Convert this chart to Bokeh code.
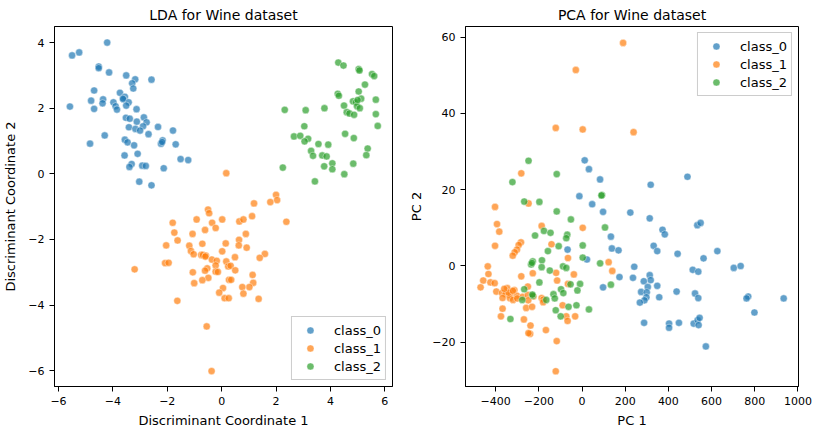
from bokeh.plotting import figure
from bokeh.layouts import row
from bokeh.models import Range1d, FixedTicker
from bokeh.embed import file_html
from bokeh.resources import INLINE

classes = ["class_0", "class_1", "class_2"]
colors = ["#1f77b4", "#ff7f0e", "#2ca02c"]

# ---------------- LDA data ----------------
lda0_x = [-4.21, -5.50, -5.24, -4.52, -4.52, -4.14, -3.51, -3.18, -3.29, -3.25, -2.58, -4.69, -3.74, -3.56,
          -3.61, -4.80, -4.36, -4.38, -3.98, -3.90, -3.85, -3.42, -3.51, -5.58, -4.69, -3.13, -3.52, -3.38,
          -3.12, -2.86, -2.76, -2.89, -3.41, -3.17, -3.00, -2.69, -2.34, -1.79, -4.30, -4.84, -3.56, -3.46,
          -3.22, -2.17, -2.23, -1.69, -3.57, -3.09, -3.31, -3.39, -2.92, -2.79, -2.13, -1.51, -1.23, -3.03,
          -2.58, -3.63, -2.19]
lda0_y = [4.00, 3.61, 3.70, 3.27, 3.22, 3.09, 3.00, 2.88, 2.76, 2.60, 2.87, 2.54, 2.47, 2.35,
          2.27, 2.23, 2.27, 2.15, 2.18, 2.06, 1.96, 2.18, 2.08, 2.05, 1.98, 1.97, 1.71, 1.68,
          1.59, 1.72, 1.57, 1.45, 1.42, 1.37, 1.32, 1.21, 1.43, 1.32, 1.17, 0.92, 1.04, 0.96,
          0.87, 1.02, 0.92, 0.90, 0.56, 0.61, 0.30, 0.21, 0.25, 0.24, 0.17, 0.45, 0.42, -0.24,
          -0.35, 2.29, 0.97]

lda1_x = [0.17, 2.00, 2.04, 1.79, 1.19,
          -0.50, -0.46, -0.92, 0.02, -0.35, -0.22, -1.80, -0.61, -1.74, -1.07, -1.62, -2.04, -1.19, -0.71,
          0.15, -1.13, -1.03, -0.75, -0.69, -0.58, 0.02, -0.36, -0.18, 0.17, 0.24, -2.08, -1.95, -0.22,
          -0.53, -0.61, -0.22, -0.14, -1.06, -3.20, -0.49, -0.71, -1.01, 0.27, 0.05, -0.09, 0.11, -1.63,
          -0.55, -0.37,
          2.38, 1.12, 0.65, 0.80, 0.89, 0.64, 0.63, 0.92, 1.59, 1.40, 0.49, 0.33, 0.50, 1.14, 0.35,
          1.16, 1.02, 0.76, 0.80, 0.26, 1.36, -0.60]
lda1_y = [0.02, -0.64, -0.80, -0.86, -0.90,
          -1.09, -1.20, -1.39, -1.39, -1.49, -1.65, -1.49, -1.71, -1.79, -1.83, -2.03, -2.18, -2.19, -2.13,
          -2.12, -2.35, -2.45, -2.47, -2.47, -2.49, -2.36, -2.61, -2.65, -2.67, -2.82, -2.72, -2.71, -2.79,
          -2.88, -2.95, -2.98, -2.99, -3.00, -2.91, -3.17, -3.24, -3.33, -3.23, -3.48, -3.62, -3.79, -3.87,
          -4.65, -6.01,
          -1.46, -1.29, -1.45, -1.39, -1.83, -2.01, -2.18, -2.25, -2.44, -2.56, -2.54, -2.80, -2.94, -3.08,
          -3.23, -3.32, -3.45, -3.45, -3.65, -3.79, -3.81, -2.52]

lda2_x = [4.29, 4.48, 5.04, 5.07, 5.53, 5.61, 5.27, 5.04, 4.27, 4.31, 4.83, 4.94, 5.13, 5.67, 4.50,
          4.98, 5.08, 4.60, 4.70, 4.87, 5.67, 5.74, 2.32, 3.09, 3.78, 3.04, 2.66, 2.89, 3.18, 3.05,
          4.54, 4.86, 3.56, 3.92, 3.29, 3.36, 3.70, 3.86, 5.37, 5.32, 3.77, 4.07, 4.07, 4.84, 4.51,
          2.25, 3.43, 5.00]
lda2_y = [3.39, 3.30, 3.19, 3.15, 3.04, 2.98, 2.72, 2.51, 2.44, 2.38, 2.21, 2.18, 2.29, 2.26, 2.08,
          2.06, 2.00, 1.88, 1.84, 1.80, 1.82, 1.46, 1.95, 1.94, 2.00, 1.45, 1.14, 1.16, 1.07, 0.99,
          1.22, 1.09, 0.91, 0.89, 0.70, 0.55, 0.56, 0.53, 0.77, 0.57, 0.23, 0.32, 0.14, 0.31, -0.01,
          0.19, -0.23, 2.25]

# ---------------- PCA data ----------------
pca0_x = [12.5, 32.1, 83.6, -12.2, 47.1, 318.1, 488.4,
          97.5, 223.7, 133.8, 138.4, 169.0, -66.9, 22.9, 241.9, 236.0, 173.5, 97.5,
          313.6, 372.9, 383.4, 533.9, 549.2, 331.8, 348.4, 442.7, 626.8, 562.9, 512.8, 538.5, 702.8,
          734.7, 313.6, 318.1, 286.2, 348.4, 304.5, 273.8, 299.9, 438.1, 523.4, 538.5, 357.6, 298.2,
          289.1, 268.0, 769.7, 762.0, 934.0, 798.5, 287.5, 403.2, 403.2, 448.8, 517.2, 535.5, 544.6,
          540.0, 573.6]
pca0_y = [27.7, 25.4, 22.7, 18.3, 16.2, 21.3, 23.4,
          14.2, 14.0, 7.7, 4.6, 4.1, 4.3, 1.7, -0.2, -3.1, -2.9, -5.6,
          12.5, 9.5, 8.3, 10.7, 11.3, 5.3, 3.9, 3.2, 3.9, 2.0, -1.0, -1.5, -0.5,
          0.0, -2.4, -3.7, -4.0, -5.2, -5.5, -6.8, -6.9, -6.7, -7.2, -8.4, -8.2, -8.2,
          -9.0, -9.6, -8.0, -8.5, -8.5, -12.2, -14.9, -15.1, -16.2, -14.9, -15.1, -14.2, -13.6,
          -15.5, -21.1]

pca1_x = [190.3, -28.7, -121.6, 3.3, 238.8, -281.3, -402.8, -247.6,
          -393.7, -383.2, -402.8, -186.9, 3.3, -141.3, -282.7, -293.3, -301.1, -311.7, -320.8, -65.1,
          -436.4, -433.3, -457.5, -424.2, -404.6, -469.7, -396.8, -346.6, -313.3, -370.9, -354.5, -331.6,
          -301.1, -368.0, -334.5, -319.4, -275.0, -250.8, -224.9, -249.3, -281.3, -228.0, -250.8, -119.9,
          -115.3, -37.7, -65.1, -186.9, -179.3, -89.7, -368.0, -375.4, -258.5, -231.2, -269.1, -238.6,
          -240.2, -248.0, -72.9, -66.9, -31.8, -167.2, -117.1, -121.6, 123.3, 140.2,
          -340.0, -360.0, -300.0, -320.0, -180.0]
pca1_y = [58.5, 51.4, 36.2, 35.8, 35.1, 24.3, 15.5, 16.4,
          11.0, 9.0, 5.3, 10.5, 10.0, 5.7, 6.2, 5.5, 4.3, 3.6, 2.7, 2.1,
          -0.1, -2.1, -3.8, -4.3, -4.5, -5.6, -6.7, -5.8, -6.3, -7.1, -7.4, -7.6,
          -7.8, -8.4, -8.4, -8.9, -8.1, -7.6, -8.0, -9.0, -2.7, -1.9, -5.4, -1.8,
          -3.8, -2.2, -4.7, -8.4, -8.8, -10.3, -11.2, -13.2, -11.0, -10.7, -14.0, -15.6,
          -17.8, -17.6, -13.2, -14.4, -13.2, -16.8, -19.7, -27.6, 1.0, -1.3,
          -7.0, -6.0, -8.5, -6.5, -9.5]

pca2_x = [-247.6, -322.3, -117.1, -267.6, -197.4, 92.8, 90.0,
          -117.1, -51.4, 106.5, -217.5, -176.3, -145.9, -68.3, -72.9, -108.0, 3.3, -158.0, 3.3, 83.8,
          -228.0, -235.7, -185.5, -186.9, -88.0, -72.9, -149.1, -197.4, -53.2, -9.0, -21.3, -267.6,
          -97.2, -86.6, -132.2, -126.2, -276.6, -228.0, -165.6, -62.4, -25.8, 32.1, -121.6, -98.8,
          -331.6, 133.8, -230.0, -232.0]
pca2_y = [27.6, 22.0, 24.1, 16.9, 16.8, 18.6, 18.5,
          14.3, 12.2, 10.1, 8.0, 9.2, 8.7, 8.2, 7.3, 5.2, 5.4, 3.9, 2.2, 0.7,
          1.2, 0.4, 1.5, -0.3, -0.1, -0.5, -1.2, -4.3, -4.8, -4.7, -6.4, -6.1,
          -6.1, -7.1, -7.4, -8.5, -8.9, -7.8, -8.9, -10.7, -10.3, -11.4, -11.6, -13.2,
          -13.9, -4.9, -7.5, 0.8]

# ticks
lda_xticks = [-6, -4, -2, 0, 2, 4, 6]
lda_yticks = [-6, -4, -2, 0, 2, 4]
pca_xticks = [-400, -200, 0, 200, 400, 600, 800, 1000]
pca_yticks = [-20, 0, 20, 40, 60]

FONT = "DejaVu Sans"


def fmt(v):
    return ("\u2212" + str(abs(v))) if v < 0 else str(v)


def make_fig(title, width, mbl, mbr, xr, yr, xticks, yticks, xlabel, ylabel, ylab_standoff):
    p = figure(width=width, height=432, x_range=Range1d(*xr), y_range=Range1d(*yr),
               output_backend="svg", toolbar_location=None,
               min_border_left=mbl, min_border_right=mbr, min_border_top=25, min_border_bottom=46)
    p.title.text = title
    p.title.align = "center"
    p.title.text_font = FONT
    p.title.text_font_size = "14px"
    p.title.text_font_style = "normal"
    p.title.text_color = "black"
    p.title.standoff = 8
    p.title.offset = 0
    p.grid.visible = False
    p.outline_line_color = "black"
    p.outline_line_width = 1
    p.outline_line_alpha = 1
    for ax, ticks in ((p.xaxis, xticks), (p.yaxis, yticks)):
        ax.ticker = FixedTicker(ticks=ticks)
        ax.major_label_overrides = {t: fmt(t) for t in ticks}
        ax.minor_tick_line_color = None
        ax.major_tick_in = 0
        ax.major_tick_out = 5
        ax.major_tick_line_color = "black"
        ax.axis_line_color = "black"
        ax.major_label_text_font = FONT
        ax.major_label_text_font_size = "11px"
        ax.major_label_text_color = "black"
        ax.axis_label_text_font = FONT
        ax.axis_label_text_font_size = "13px"
        ax.axis_label_text_font_style = "normal"
        ax.axis_label_text_color = "black"
    p.xaxis.major_label_standoff = 5
    p.xaxis.axis_label_standoff = 5
    p.yaxis.major_label_standoff = 5
    p.yaxis.axis_label_standoff = ylab_standoff
    p.xaxis.axis_label = xlabel
    p.yaxis.axis_label = ylabel
    return p


p1 = make_fig("LDA for Wine dataset", 406, 54, 14, (-6.147, 6.283), (-6.48, 4.49),
              lda_xticks, lda_yticks, "Discriminant Coordinate 1", "Discriminant Coordinate 2", 7)
p2 = make_fig("PCA for Wine dataset", 412, 54, 20, (-539.6, 1002.6), (-31.6, 62.8),
              pca_xticks, pca_yticks, "PC 1", "PC 2", 5)

lda = [(lda0_x, lda0_y), (lda1_x, lda1_y), (lda2_x, lda2_y)]
pca = [(pca0_x, pca0_y), (pca1_x, pca1_y), (pca2_x, pca2_y)]

for p, sets in ((p1, lda), (p2, pca)):
    for (xs, ys), c, name in zip(sets, colors, classes):
        p.scatter(xs, ys, size=7.2, fill_color=c, fill_alpha=0.7, line_color="white",
                  line_alpha=0.7, line_width=0.6, legend_label=name)
    lg = p.legend[0]
    lg.label_text_font = FONT
    lg.label_text_font_size = "13px"
    lg.label_text_color = "black"
    lg.border_line_color = "#cccccc"
    lg.border_line_alpha = 1
    lg.background_fill_alpha = 0.8
    lg.padding = 4
    lg.spacing = 0
    lg.margin = 6
    lg.glyph_width = 28
    lg.glyph_height = 18
    lg.label_height = 18
    lg.label_standoff = 10

p1.legend.location = "bottom_right"
p2.legend.location = "top_right"

layout = row(p1, p2)
open("out.html", "w").write(file_html(layout, INLINE))
